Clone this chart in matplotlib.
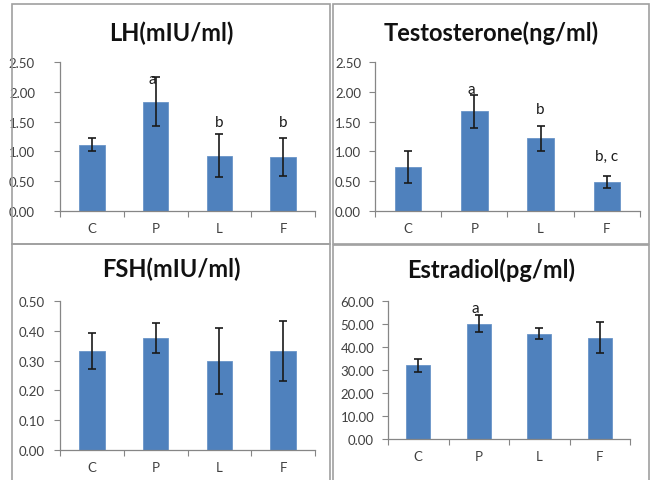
import matplotlib
matplotlib.use("Agg")
import matplotlib.pyplot as plt
from matplotlib.patches import Rectangle

plt.rcParams["font.family"] = ["Lato", "DejaVu Sans"]

groups = ["C", "P", "L", "F"]

lh_mean = [1.11, 1.83, 0.93, 0.90]
lh_err = [0.11, 0.41, 0.36, 0.32]
lh_marks = ["", "a", "b", "b"]
lh_mark_y = [0, 2.22, 1.49, 1.49]

testo_mean = [0.74, 1.67, 1.22, 0.48]
testo_err = [0.27, 0.28, 0.21, 0.10]
testo_marks = ["", "a", "b", "b, c"]
testo_mark_y = [0, 2.05, 1.71, 0.93]

fsh_mean = [0.333, 0.376, 0.298, 0.333]
fsh_err = [0.060, 0.050, 0.110, 0.100]

estr_mean = [32.0, 50.2, 45.8, 44.0]
estr_err = [2.9, 3.8, 2.3, 6.8]
estr_marks = ["", "a", "", ""]
estr_mark_y = [0, 56.8, 0, 0]

W, H = 651, 481
fig = plt.figure(figsize=(W / 100, H / 100), dpi=100)

# panel borders (pixel coords)
frames = [(12, 5, 330, 245), (333, 5, 649, 245), (12, 245, 330, 500), (333, 246, 649, 500)]
for x0, y0, x1, y1 in frames:
    fig.add_artist(Rectangle((x0 / W, 1 - y1 / H), (x1 - x0) / W, (y1 - y0) / H,
                             transform=fig.transFigure, fill=False,
                             edgecolor="#a0a0a0", linewidth=1.2))


def panel(frame, box, title, title_y, mean, err, ymax, step, ypad, marks=None, mark_y=None):
    left, right, bottom, top = box
    ax = fig.add_axes([left / W, 1 - bottom / H, (right - left) / W, (bottom - top) / H])
    x = range(len(groups))
    ax.bar(x, mean, width=0.4, color="#4f81bd", edgecolor="#6a95c8", linewidth=0.6)
    ax.errorbar(x, mean, yerr=err, fmt="none", ecolor="#1a1a1a",
                elinewidth=1.2, capsize=3, capthick=1.2)
    ax.set_xlim(-0.5, 3.5)
    ax.set_ylim(0, ymax)
    ticks = [i * step for i in range(int(round(ymax / step)) + 1)]
    ax.set_yticks(ticks)
    ax.set_yticklabels(["{:.2f}".format(t) for t in ticks])
    ax.set_xticks([-0.5, 0.5, 1.5, 2.5, 3.5])
    ax.set_xticklabels([])
    ax.set_xticks(list(x), minor=True)
    ax.set_xticklabels(groups, minor=True)
    ax.tick_params(axis="x", which="major", length=4, color="#868686", direction="out")
    ax.tick_params(axis="x", which="minor", length=0, pad=8)
    ax.tick_params(axis="y", length=4, color="#868686", direction="out", pad=ypad)
    ax.tick_params(labelsize=9.5, labelcolor="#404040", which="both")
    for s in ["top", "right"]:
        ax.spines[s].set_visible(False)
    for s in ["left", "bottom"]:
        ax.spines[s].set_color("#868686")
        ax.spines[s].set_linewidth(0.9)
    if marks:
        for i, (m, my) in enumerate(zip(marks, mark_y)):
            if m:
                dx = -0.05 if m == "a" else 0
                ax.text(i + dx, my, m, ha="center", va="center", fontsize=11, color="#1a1a1a")
    fig.text((frame[0] + frame[1]) / 2 / W, 1 - title_y / H, title, ha="center", va="center",
             fontsize=17, fontweight="bold", color="#111111")
    return ax


panel((12, 330), (60, 315, 212, 63), "LH(mIU/ml)", 33, lh_mean, lh_err, 2.5, 0.5, 14,
      lh_marks, lh_mark_y)
panel((333, 649), (375, 640, 212, 63), "Testosterone(ng/ml)", 33, testo_mean, testo_err,
      2.5, 0.5, 6, testo_marks, testo_mark_y)
panel((12, 330), (60, 315, 451, 302), "FSH(mIU/ml)", 269, fsh_mean, fsh_err, 0.5, 0.1, 7)
panel((333, 649), (388, 630, 440, 302), "Estradiol(pg/ml)", 270, estr_mean, estr_err, 60, 10, 6,
      estr_marks, estr_mark_y)

fig.savefig("out.png", dpi=100)
